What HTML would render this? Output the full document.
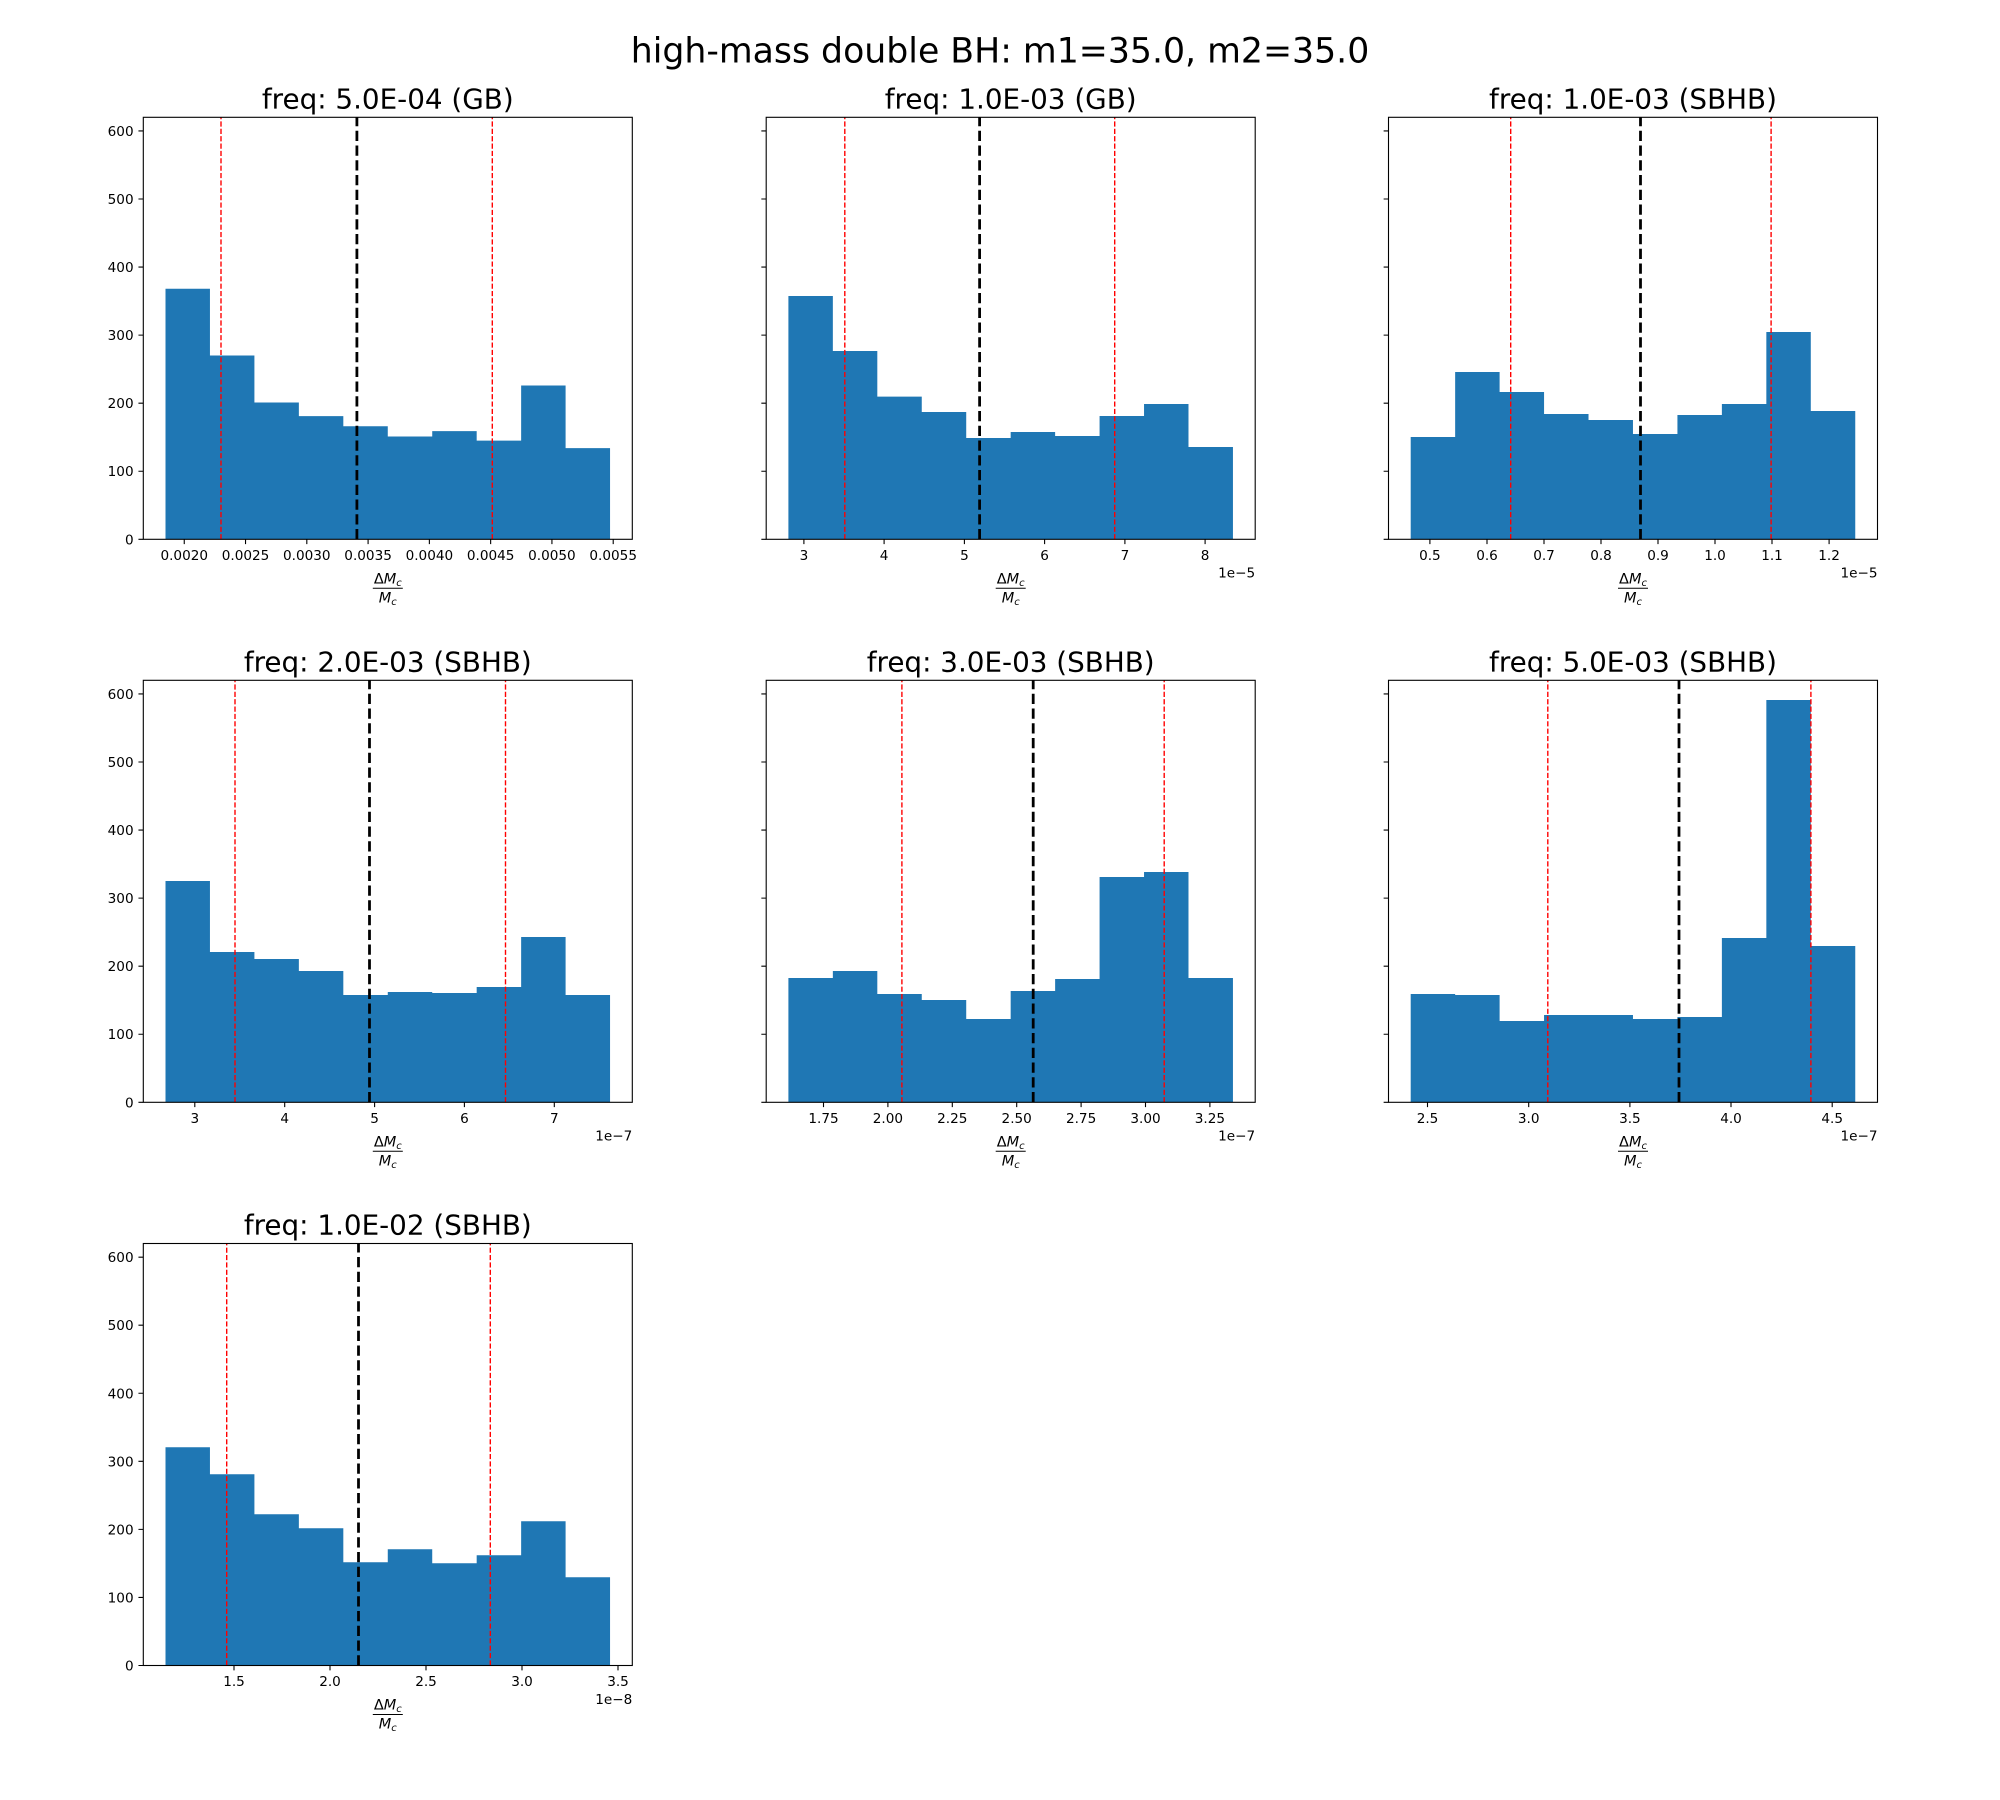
<!DOCTYPE html>
<html><head><meta charset="utf-8"><style>
html,body{margin:0;padding:0;background:#fff;}
svg{display:block;}
text{font-family:"DejaVu Sans","Liberation Sans",sans-serif;fill:#000;}
.tk{font-size:13.6px;}
.tt{font-size:27.8px;text-anchor:middle;}
.st{font-size:34.7px;text-anchor:middle;}
.xl{font-size:14.5px;text-anchor:middle;}
.it{font-style:italic;}
.bar{fill:#1f77b4;stroke:none;}
.rl{stroke:#ff0000;stroke-width:1.39;stroke-dasharray:5.15 2.22;fill:none;}
.bl{stroke:#000;stroke-width:2.78;stroke-dasharray:10.3 4.45;fill:none;}
.sp{fill:none;stroke:#000;stroke-width:1.1;}
.tm{stroke:#000;stroke-width:1.1;fill:none;}
.fb{stroke:#000;stroke-width:1;}
</style></head><body>
<svg width="2000" height="1800" viewBox="0 0 2000 1800" xmlns="http://www.w3.org/2000/svg">
<rect x="0" y="0" width="2000" height="1800" fill="#fff"/>
<text class="st" x="1000" y="62.5">high-mass double BH: m1=35.0, m2=35.0</text>

<!-- ===== Panel 1 ===== -->
<path class="bar" d="M165.5 539.3V288.8H209.95V355.5H254.41V402.5H298.86V416.1H343.32V426.3H387.77V436.5H432.23V431.1H476.68V440.6H521.14V385.5H565.59V448.1H610.05V539.3Z"/>
<path class="rl" d="M221.0 539.3V117.3M492.3 539.3V117.3"/>
<path class="bl" d="M356.9 539.3V117.3"/>
<rect class="sp" x="143.3" y="117.3" width="489" height="422"/>
<path class="tm" d="M184.25 539.3v4.86M245.53 539.3v4.86M306.81 539.3v4.86M368.09 539.3v4.86M429.37 539.3v4.86M490.65 539.3v4.86M551.93 539.3v4.86M613.21 539.3v4.86"/>
<path class="tm" d="M138.44 539.3h4.86M138.44 471.24h4.86M138.44 403.18h4.86M138.44 335.12h4.86M138.44 267.06h4.86M138.44 199h4.86M138.44 130.94h4.86"/>
<g class="tk" text-anchor="middle">
<text x="184.25" y="559.8">0.0020</text>
<text x="245.53" y="559.8">0.0025</text>
<text x="306.81" y="559.8">0.0030</text>
<text x="368.09" y="559.8">0.0035</text>
<text x="429.37" y="559.8">0.0040</text>
<text x="490.65" y="559.8">0.0045</text>
<text x="551.93" y="559.8">0.0050</text>
<text x="613.21" y="559.8">0.0055</text>
</g>
<g class="tk" text-anchor="end">
<text x="133.6" y="544.3">0</text>
<text x="133.6" y="476.24">100</text>
<text x="133.6" y="408.18">200</text>
<text x="133.6" y="340.12">300</text>
<text x="133.6" y="272.06">400</text>
<text x="133.6" y="204">500</text>
<text x="133.6" y="135.94">600</text>
</g>
<text class="tt" x="387.8" y="108.3">freq: 5.0E-04 (GB)</text>
<text class="xl" x="387.8" y="583.3">Δ<tspan class="it">M</tspan><tspan class="it" font-size="10" dy="2.5">c</tspan></text>
<line class="fb" x1="372.8" y1="588.3" x2="402.8" y2="588.3"/>
<text class="xl" x="387.8" y="602.3"><tspan class="it">M</tspan><tspan class="it" font-size="10" dy="2.5">c</tspan></text>

<!-- ===== Panel 2 ===== -->
<path class="bar" d="M788.4 539.3V296.0H832.85V351.0H877.31V396.6H921.76V412.0H966.22V438.0H1010.67V432.0H1055.13V436.0H1099.58V416.0H1144.04V404.0H1188.49V447.0H1232.95V539.3Z"/>
<path class="rl" d="M844.8 539.3V117.3M1114.7 539.3V117.3"/>
<path class="bl" d="M979.6 539.3V117.3"/>
<rect class="sp" x="766.2" y="117.3" width="489" height="422"/>
<path class="tm" d="M803.9 539.3v4.86M884.1 539.3v4.86M964.4 539.3v4.86M1044.6 539.3v4.86M1124.9 539.3v4.86M1205.1 539.3v4.86"/>
<path class="tm" d="M761.34 539.3h4.86M761.34 471.24h4.86M761.34 403.18h4.86M761.34 335.12h4.86M761.34 267.06h4.86M761.34 199h4.86M761.34 130.94h4.86"/>
<g class="tk" text-anchor="middle">
<text x="803.9" y="559.8">3</text>
<text x="884.1" y="559.8">4</text>
<text x="964.4" y="559.8">5</text>
<text x="1044.6" y="559.8">6</text>
<text x="1124.9" y="559.8">7</text>
<text x="1205.1" y="559.8">8</text>
</g>
<text class="tk" x="1255.2" y="577.6" text-anchor="end">1e−5</text>
<text class="tt" x="1010.7" y="108.3">freq: 1.0E-03 (GB)</text>
<text class="xl" x="1010.7" y="583.3">Δ<tspan class="it">M</tspan><tspan class="it" font-size="10" dy="2.5">c</tspan></text>
<line class="fb" x1="995.7" y1="588.3" x2="1025.7" y2="588.3"/>
<text class="xl" x="1010.7" y="602.3"><tspan class="it">M</tspan><tspan class="it" font-size="10" dy="2.5">c</tspan></text>

<!-- ===== Panel 3 ===== -->
<path class="bar" d="M1410.7 539.3V437.0H1455.15V372.0H1499.61V392.0H1544.06V414.0H1588.52V420.0H1632.97V434.0H1677.43V415.0H1721.88V404.0H1766.34V332.0H1810.79V411.0H1855.25V539.3Z"/>
<path class="rl" d="M1510.7 539.3V117.3M1771.1 539.3V117.3"/>
<path class="bl" d="M1640.5 539.3V117.3"/>
<rect class="sp" x="1388.5" y="117.3" width="489" height="422"/>
<path class="tm" d="M1429.9 539.3v4.86M1487 539.3v4.86M1544 539.3v4.86M1601 539.3v4.86M1658 539.3v4.86M1715 539.3v4.86M1772 539.3v4.86M1829.1 539.3v4.86"/>
<path class="tm" d="M1383.64 539.3h4.86M1383.64 471.24h4.86M1383.64 403.18h4.86M1383.64 335.12h4.86M1383.64 267.06h4.86M1383.64 199h4.86M1383.64 130.94h4.86"/>
<g class="tk" text-anchor="middle">
<text x="1429.9" y="559.8">0.5</text>
<text x="1487" y="559.8">0.6</text>
<text x="1544" y="559.8">0.7</text>
<text x="1601" y="559.8">0.8</text>
<text x="1658" y="559.8">0.9</text>
<text x="1715" y="559.8">1.0</text>
<text x="1772" y="559.8">1.1</text>
<text x="1829.1" y="559.8">1.2</text>
</g>
<text class="tk" x="1877.5" y="577.6" text-anchor="end">1e−5</text>
<text class="tt" x="1633" y="108.3">freq: 1.0E-03 (SBHB)</text>
<text class="xl" x="1633" y="583.3">Δ<tspan class="it">M</tspan><tspan class="it" font-size="10" dy="2.5">c</tspan></text>
<line class="fb" x1="1618" y1="588.3" x2="1648" y2="588.3"/>
<text class="xl" x="1633" y="602.3"><tspan class="it">M</tspan><tspan class="it" font-size="10" dy="2.5">c</tspan></text>

<!-- ===== Panel 4 ===== -->
<path class="bar" d="M165.5 1102.3V881.0H209.95V952.0H254.41V959.0H298.86V971.0H343.32V995.0H387.77V992.0H432.23V993.0H476.68V987.0H521.14V937.0H565.59V995.0H610.05V1102.3Z"/>
<path class="rl" d="M235.0 1102.3V680.3M505.5 1102.3V680.3"/>
<path class="bl" d="M369.5 1102.3V680.3"/>
<rect class="sp" x="143.3" y="680.3" width="489" height="422"/>
<path class="tm" d="M194.8 1102.3v4.86M284.7 1102.3v4.86M374.6 1102.3v4.86M464.4 1102.3v4.86M554.3 1102.3v4.86"/>
<path class="tm" d="M138.44 1102.3h4.86M138.44 1034.24h4.86M138.44 966.18h4.86M138.44 898.12h4.86M138.44 830.06h4.86M138.44 762h4.86M138.44 693.94h4.86"/>
<g class="tk" text-anchor="middle">
<text x="194.8" y="1122.8">3</text>
<text x="284.7" y="1122.8">4</text>
<text x="374.6" y="1122.8">5</text>
<text x="464.4" y="1122.8">6</text>
<text x="554.3" y="1122.8">7</text>
</g>
<g class="tk" text-anchor="end">
<text x="133.6" y="1107.3">0</text>
<text x="133.6" y="1039.24">100</text>
<text x="133.6" y="971.18">200</text>
<text x="133.6" y="903.12">300</text>
<text x="133.6" y="835.06">400</text>
<text x="133.6" y="767">500</text>
<text x="133.6" y="698.94">600</text>
</g>
<text class="tk" x="632.3" y="1140.6" text-anchor="end">1e−7</text>
<text class="tt" x="387.8" y="671.3">freq: 2.0E-03 (SBHB)</text>
<text class="xl" x="387.8" y="1146.3">Δ<tspan class="it">M</tspan><tspan class="it" font-size="10" dy="2.5">c</tspan></text>
<line class="fb" x1="372.8" y1="1151.3" x2="402.8" y2="1151.3"/>
<text class="xl" x="387.8" y="1165.3"><tspan class="it">M</tspan><tspan class="it" font-size="10" dy="2.5">c</tspan></text>

<!-- ===== Panel 5 ===== -->
<path class="bar" d="M788.4 1102.3V978.0H832.85V971.0H877.31V994.0H921.76V1000.0H966.22V1019.0H1010.67V991.0H1055.13V979.0H1099.58V877.0H1144.04V872.0H1188.49V978.0H1232.95V1102.3Z"/>
<path class="rl" d="M901.9 1102.3V680.3M1164.2 1102.3V680.3"/>
<path class="bl" d="M1033.2 1102.3V680.3"/>
<rect class="sp" x="766.2" y="680.3" width="489" height="422"/>
<path class="tm" d="M823.5 1102.3v4.86M887.9 1102.3v4.86M952.3 1102.3v4.86M1016.7 1102.3v4.86M1081.1 1102.3v4.86M1145.5 1102.3v4.86M1209.9 1102.3v4.86"/>
<path class="tm" d="M761.34 1102.3h4.86M761.34 1034.24h4.86M761.34 966.18h4.86M761.34 898.12h4.86M761.34 830.06h4.86M761.34 762h4.86M761.34 693.94h4.86"/>
<g class="tk" text-anchor="middle">
<text x="823.5" y="1122.8">1.75</text>
<text x="887.9" y="1122.8">2.00</text>
<text x="952.3" y="1122.8">2.25</text>
<text x="1016.7" y="1122.8">2.50</text>
<text x="1081.1" y="1122.8">2.75</text>
<text x="1145.5" y="1122.8">3.00</text>
<text x="1209.9" y="1122.8">3.25</text>
</g>
<text class="tk" x="1255.2" y="1140.6" text-anchor="end">1e−7</text>
<text class="tt" x="1010.7" y="671.3">freq: 3.0E-03 (SBHB)</text>
<text class="xl" x="1010.7" y="1146.3">Δ<tspan class="it">M</tspan><tspan class="it" font-size="10" dy="2.5">c</tspan></text>
<line class="fb" x1="995.7" y1="1151.3" x2="1025.7" y2="1151.3"/>
<text class="xl" x="1010.7" y="1165.3"><tspan class="it">M</tspan><tspan class="it" font-size="10" dy="2.5">c</tspan></text>

<!-- ===== Panel 6 ===== -->
<path class="bar" d="M1410.7 1102.3V994.0H1455.15V995.0H1499.61V1021.0H1544.06V1015.0H1588.52V1015.0H1632.97V1019.0H1677.43V1017.0H1721.88V938.0H1766.34V700.0H1810.79V946.0H1855.25V1102.3Z"/>
<path class="rl" d="M1547.8 1102.3V680.3M1810.9 1102.3V680.3"/>
<path class="bl" d="M1679.0 1102.3V680.3"/>
<rect class="sp" x="1388.5" y="680.3" width="489" height="422"/>
<path class="tm" d="M1427.5 1102.3v4.86M1528.7 1102.3v4.86M1629.9 1102.3v4.86M1731 1102.3v4.86M1832.2 1102.3v4.86"/>
<path class="tm" d="M1383.64 1102.3h4.86M1383.64 1034.24h4.86M1383.64 966.18h4.86M1383.64 898.12h4.86M1383.64 830.06h4.86M1383.64 762h4.86M1383.64 693.94h4.86"/>
<g class="tk" text-anchor="middle">
<text x="1427.5" y="1122.8">2.5</text>
<text x="1528.7" y="1122.8">3.0</text>
<text x="1629.9" y="1122.8">3.5</text>
<text x="1731" y="1122.8">4.0</text>
<text x="1832.2" y="1122.8">4.5</text>
</g>
<text class="tk" x="1877.5" y="1140.6" text-anchor="end">1e−7</text>
<text class="tt" x="1633" y="671.3">freq: 5.0E-03 (SBHB)</text>
<text class="xl" x="1633" y="1146.3">Δ<tspan class="it">M</tspan><tspan class="it" font-size="10" dy="2.5">c</tspan></text>
<line class="fb" x1="1618" y1="1151.3" x2="1648" y2="1151.3"/>
<text class="xl" x="1633" y="1165.3"><tspan class="it">M</tspan><tspan class="it" font-size="10" dy="2.5">c</tspan></text>

<!-- ===== Panel 7 ===== -->
<path class="bar" d="M165.5 1665.5V1447.2H209.95V1474.2H254.41V1514.2H298.86V1528.2H343.32V1562.2H387.77V1549.2H432.23V1563.2H476.68V1555.2H521.14V1521.2H565.59V1577.2H610.05V1665.5Z"/>
<path class="rl" d="M226.7 1665.5V1243.5M490.3 1665.5V1243.5"/>
<path class="bl" d="M358.5 1665.5V1243.5"/>
<rect class="sp" x="143.3" y="1243.5" width="489" height="422"/>
<path class="tm" d="M234 1665.5v4.86M330 1665.5v4.86M426 1665.5v4.86M522 1665.5v4.86M618 1665.5v4.86"/>
<path class="tm" d="M138.44 1665.5h4.86M138.44 1597.44h4.86M138.44 1529.38h4.86M138.44 1461.32h4.86M138.44 1393.26h4.86M138.44 1325.2h4.86M138.44 1257.14h4.86"/>
<g class="tk" text-anchor="middle">
<text x="234" y="1686">1.5</text>
<text x="330" y="1686">2.0</text>
<text x="426" y="1686">2.5</text>
<text x="522" y="1686">3.0</text>
<text x="618" y="1686">3.5</text>
</g>
<g class="tk" text-anchor="end">
<text x="133.6" y="1670.5">0</text>
<text x="133.6" y="1602.44">100</text>
<text x="133.6" y="1534.38">200</text>
<text x="133.6" y="1466.32">300</text>
<text x="133.6" y="1398.26">400</text>
<text x="133.6" y="1330.2">500</text>
<text x="133.6" y="1262.14">600</text>
</g>
<text class="tk" x="632.3" y="1703.8" text-anchor="end">1e−8</text>
<text class="tt" x="387.8" y="1234.5">freq: 1.0E-02 (SBHB)</text>
<text class="xl" x="387.8" y="1709.5">Δ<tspan class="it">M</tspan><tspan class="it" font-size="10" dy="2.5">c</tspan></text>
<line class="fb" x1="372.8" y1="1714.5" x2="402.8" y2="1714.5"/>
<text class="xl" x="387.8" y="1728.5"><tspan class="it">M</tspan><tspan class="it" font-size="10" dy="2.5">c</tspan></text>
</svg>
</body></html>
